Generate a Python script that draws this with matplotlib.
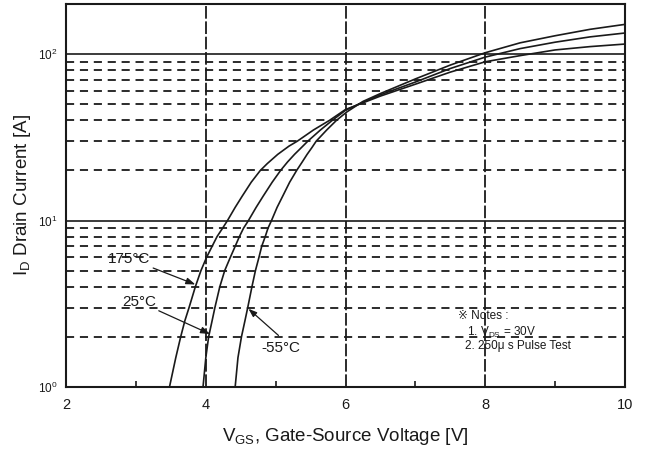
import matplotlib
matplotlib.use("Agg")
import matplotlib.pyplot as plt
import matplotlib.ticker as m_tick

# Transfer characteristics, I_D vs V_GS at three junction temperatures
vgs_175 = [3.48, 3.57, 3.64, 3.70, 3.76, 3.85, 3.93, 4.01, 4.09, 4.16, 4.24, 4.31,
           4.42, 4.52, 4.65, 4.78, 4.88, 5.03, 5.19, 5.31, 5.54, 5.77, 6.0,
           6.25, 6.5, 7.0, 7.5, 8.0, 8.5, 9.0, 9.5, 10.0]
id_175 = [1.0, 1.5, 2.0, 2.5, 3.0, 4.0, 5.0, 6.0, 7.0, 8.0, 9.0, 10.0,
          12.0, 14.0, 17.0, 20.0, 22.0, 25.0, 28.0, 30.0, 35.0, 40.0, 46.5,
          51.0, 56.0, 66.0, 78.0, 90.0, 98.0, 106.0, 111.0, 115.0]

vgs_25 = [3.96, 4.00, 4.04, 4.09, 4.13, 4.20, 4.27, 4.35, 4.42, 4.48, 4.54, 4.61,
          4.72, 4.82, 4.95, 5.07, 5.17, 5.27, 5.37, 5.46, 5.64, 5.81, 6.0,
          6.25, 6.5, 7.0, 7.5, 8.0, 8.5, 9.0, 9.5, 10.0]
id_25 = [1.0, 1.5, 2.0, 2.5, 3.0, 4.0, 5.0, 6.0, 7.0, 8.0, 9.0, 10.0,
         12.0, 14.0, 17.0, 20.0, 22.5, 25.0, 27.5, 30.0, 35.0, 40.0, 46.0,
         51.5, 57.0, 68.0, 82.0, 96.0, 108.0, 118.0, 127.0, 134.0]

vgs_m55 = [4.42, 4.46, 4.51, 4.56, 4.60, 4.66, 4.71, 4.76, 4.80, 4.85, 4.89, 4.94,
           5.02, 5.10, 5.20, 5.30, 5.38, 5.45, 5.52, 5.58, 5.73, 5.87, 6.02,
           6.25, 6.5, 7.0, 7.5, 8.0, 8.5, 9.0, 9.5, 10.0]
id_m55 = [1.0, 1.5, 2.0, 2.5, 3.0, 4.0, 5.0, 6.0, 7.0, 8.0, 9.0, 10.0,
          12.0, 14.0, 17.0, 20.0, 22.5, 25.0, 27.5, 30.0, 35.0, 40.0, 45.0,
          52.0, 58.0, 71.0, 86.0, 102.0, 117.0, 129.0, 141.0, 151.0]

curve_labels = ["175°C", "25°C", "-55°C"]
notes_lines = ["※ Notes :", "1. V$_{DS}$ = 30V", "2. 250μ s Pulse Test"]

INK = "#1a1a1a"

plt.rcParams["font.family"] = ["Liberation Sans", "DejaVu Sans"]
plt.rcParams["mathtext.default"] = "regular"

fig = plt.figure(figsize=(6.48, 4.51), dpi=100)
ax = fig.add_axes([0.102, 0.142, 0.8625, 0.849])

ax.set_yscale("log")
ax.set_xlim(2, 10)
ax.set_ylim(1, 200)

# grid: solid decades, dashed minor levels and dashed verticals
for d in (10, 100):
    ax.axhline(d, color=INK, lw=1.2, zorder=1)
for m in (2, 3, 4, 5, 6, 7, 8, 9, 20, 30, 40, 50, 60, 70, 80, 90):
    ax.axhline(m, color=INK, lw=1.3, ls=(0, (4.5, 3.2)), zorder=1)
for v in (4, 6, 8):
    ax.axvline(v, color=INK, lw=1.3, ls=(0, (7, 1.5)), zorder=1)

for vs, ids in ((vgs_175, id_175), (vgs_25, id_25), (vgs_m55, id_m55)):
    ax.plot(vs, ids, color=INK, lw=1.2, zorder=3, solid_joinstyle="round")

arrow = dict(arrowstyle="-|>,head_length=0.5,head_width=0.18", color=INK, lw=0.9,
             shrinkA=0, shrinkB=0)
ax.annotate(curve_labels[0], xy=(3.85, 4.13), xytext=(2.6, 5.9), fontsize=11,
            va="center", ha="left", arrowprops=arrow, color=INK)
ax.annotate(curve_labels[1], xy=(4.06, 2.08), xytext=(2.8, 3.25), fontsize=11,
            va="center", ha="left", arrowprops=arrow, color=INK)
ax.annotate("", xy=(4.61, 2.95), xytext=(5.04, 2.04), arrowprops=arrow)
ax.text(4.8, 1.71, curve_labels[2], fontsize=11, va="center", ha="left", color=INK)

ax.text(7.61, 2.66, notes_lines[0], fontsize=8.5, color=INK, va="center", ha="left")
ax.text(7.74, 2.13, notes_lines[1], fontsize=8.5, color=INK, va="center", ha="left")
ax.text(7.71, 1.76, notes_lines[2], fontsize=8.5, color=INK, va="center", ha="left")

ax.xaxis.set_major_locator(m_tick.FixedLocator([2, 4, 6, 8, 10]))
ax.xaxis.set_minor_locator(m_tick.FixedLocator([3, 5, 7, 9]))
ax.tick_params(axis="x", which="major", length=0, labelsize=10.5, pad=8, colors=INK)
ax.tick_params(axis="x", which="minor", direction="in", length=4, width=1.2, color=INK)
ax.tick_params(axis="y", which="major", length=0, labelsize=8.5, pad=6, colors=INK)
ax.tick_params(axis="y", which="minor", length=0)
ax.yaxis.set_major_locator(m_tick.FixedLocator([1, 10, 100]))
ax.yaxis.set_minor_formatter(m_tick.NullFormatter())

for s in ax.spines.values():
    s.set_linewidth(1.5)
    s.set_color(INK)

ax.set_xlabel("V$_{GS}$, Gate-Source Voltage [V]", fontsize=13.5, color=INK, labelpad=10)
ax.set_ylabel("I$_{D}$ Drain Current [A]", fontsize=13.5, color=INK, labelpad=4)

fig.savefig("out.png", dpi=100)
